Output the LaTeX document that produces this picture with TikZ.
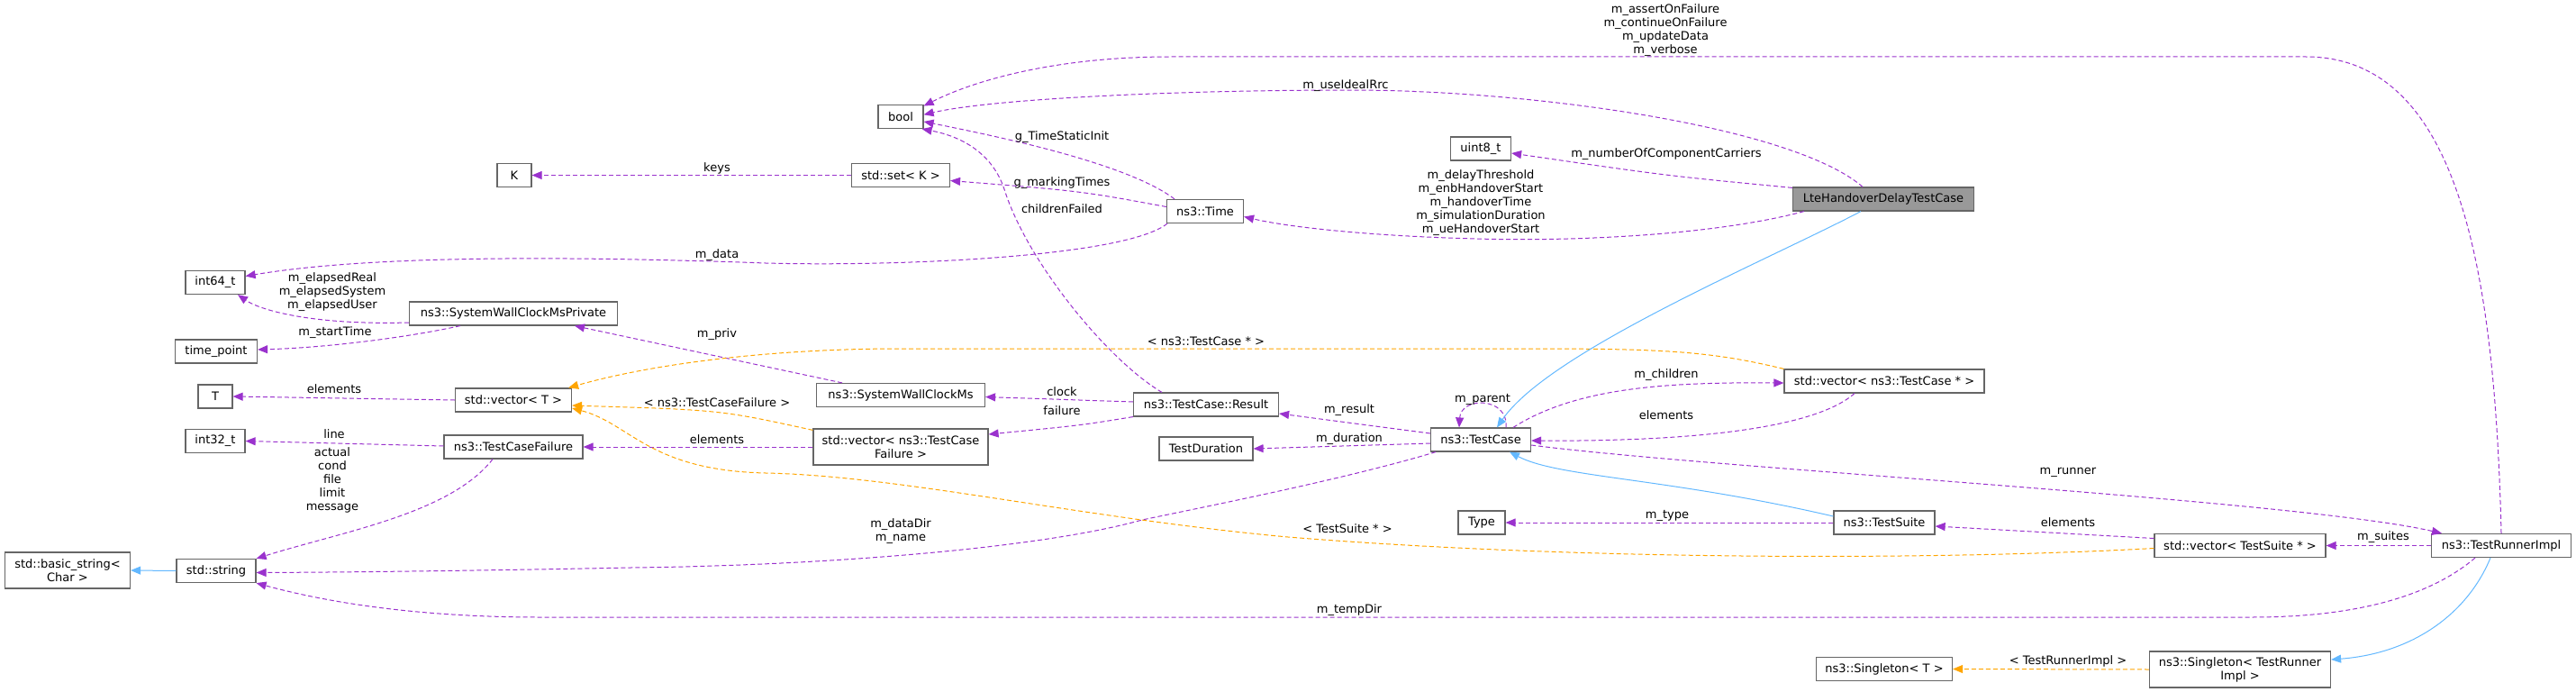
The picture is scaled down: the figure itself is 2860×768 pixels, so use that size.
\documentclass[tikz,border=0pt]{standalone}
\usepackage{fontspec}
\setmainfont{DejaVu Sans}
\usetikzlibrary{arrows.meta}
\definecolor{cpur}{HTML}{9A32CD}
\definecolor{corg}{HTML}{FFA500}
\definecolor{cblu}{HTML}{63B8FF}
\definecolor{cbord}{HTML}{666666}
\begin{document}
\begin{tikzpicture}[x=1pt,y=-1pt,
  every node/.style={font=\fontsize{13}{15}\selectfont},
  box/.style={draw=cbord,line width=1.2pt,fill=white,inner sep=0pt,minimum height=26pt,align=center},
  lab/.style={align=center,inner sep=0pt},
  pe/.style={draw=cpur,line width=1pt,dash pattern=on 5pt off 3pt,-{Triangle[length=11pt,width=9pt]}},
  oe/.style={draw=corg,line width=1pt,dash pattern=on 5pt off 3pt,-{Triangle[length=11pt,width=9pt]}},
  be/.style={draw=cblu,line width=1pt,-{Triangle[length=11pt,width=9pt]}}]
\useasboundingbox (0,0) rectangle (2860,768);
% nodes
\node[box,minimum width=50pt] (bool) at (1000,129.5) {bool};
\node[box,minimum width=38pt] (K) at (571,194.5) {K};
\node[box,minimum width=109pt] (set) at (1000,194.5) {std::set\textless{} K \textgreater};
\node[box,minimum width=85pt] (time) at (1338,234.5) {ns3::Time};
\node[box,minimum width=66pt] (int64) at (239,313.5) {int64\_t};
\node[box,minimum width=231pt] (priv) at (570,348) {ns3::SystemWallClockMsPrivate};
\node[box,minimum width=91pt] (tp) at (240,390) {time\_point};
\node[box,minimum width=38pt] (T) at (239,440) {T};
\node[box,minimum width=129pt] (vT) at (570,444) {std::vector\textless{} T \textgreater};
\node[box,minimum width=66pt] (int32) at (239,489.5) {int32\_t};
\node[box,minimum width=154pt] (tcf) at (570,496) {ns3::TestCaseFailure};
\node[box,minimum width=187pt] (swcm) at (1000,438.5) {ns3::SystemWallClockMs};
\node[box,minimum width=194pt,minimum height=40pt] (vtcf) at (1000,496) {std::vector\textless{} ns3::TestCase\\Failure \textgreater};
\node[box,minimum width=161pt] (res) at (1339,449) {ns3::TestCase::Result};
\node[box,minimum width=104pt] (dur) at (1339,498) {TestDuration};
\node[box,minimum width=139pt,minimum height=40pt] (bstr) at (75,633) {std::basic\_string\textless\\Char \textgreater};
\node[box,minimum width=88pt] (str) at (240,633.5) {std::string};
\node[box,minimum width=67pt] (uint) at (1644,165) {uint8\_t};
\node[box,minimum width=201pt,fill=black!40] (lte) at (2091,221) {LteHandoverDelayTestCase};
\node[box,minimum width=222pt] (vtc) at (2092,423) {std::vector\textless{} ns3::TestCase * \textgreater};
\node[box,minimum width=111pt] (tc) at (1644,488) {ns3::TestCase};
\node[box,minimum width=52pt] (type) at (1645,580) {Type};
\node[box,minimum width=112pt] (suite) at (2092,580) {ns3::TestSuite};
\node[box,minimum width=190pt] (vts) at (2487,605.5) {std::vector\textless{} TestSuite * \textgreater};
\node[box,minimum width=155pt] (tri) at (2777,605.5) {ns3::TestRunnerImpl};
\node[box,minimum width=151pt] (sgT) at (2092,742.5) {ns3::Singleton\textless{} T \textgreater};
\node[box,minimum width=201pt,minimum height=40pt] (sgl) at (2487,743) {ns3::Singleton\textless{} TestRunner\\Impl \textgreater};
% connectors
\draw[pe] (tri.north) .. controls (2770,300) and (2730,63) .. (2560,63) -- (1300,63) .. controls (1170,63) and (1080,90) .. (bool.25);
\draw[pe] ([xshift=-23pt]lte.north) .. controls (1990,140) and (1700,100) .. (1500,100) .. controls (1300,100) and (1100,110) .. (bool.5);
\draw[pe] ([yshift=-1pt]lte.north west) .. controls (1850,195) .. ([yshift=-5pt]uint.east);
\draw[pe] ([xshift=13pt]lte.south west) .. controls (1900,262) and (1740,268) .. (1640,265) .. controls (1520,262) and (1430,252) .. ([yshift=-6pt]time.east);
\draw[pe] ([xshift=-34pt]time.north) .. controls (1250,180) and (1100,150) .. (bool.-12);
\draw[pe] ([yshift=5pt]time.west) .. controls (1200,212) .. ([yshift=-6pt]set.east);
\draw[pe] ([xshift=-49pt]res.north) .. controls (1230,400) and (1140,290) .. (1115,210) .. controls (1100,165) and (1060,150) .. (bool.-30);
\draw[pe] (set.west) -- (K.east);
\draw[pe] ([xshift=-42pt]time.south) .. controls (1250,285) and (1000,296) .. (850,292) .. controls (600,283) and (400,285) .. ([yshift=7pt]int64.east);
\draw[pe] ([yshift=-10pt]priv.west) .. controls (350,361) and (290,345) .. ([xshift=25pt]int64.south);
\draw[pe] ([xshift=-59pt]priv.south) .. controls (450,375) and (360,386) .. ([yshift=2pt]tp.east);
\draw[pe] ([xshift=-65pt]swcm.north) -- ([xshift=68pt]priv.south);
\draw[pe] (vT.west) -- (T.east);
\draw[pe] ([yshift=1pt]tcf.west) -- (int32.east);
\draw[pe] ([xshift=-23pt]tcf.south) .. controls (500,570) and (380,590) .. (str.north east);
\draw[pe] (vtcf.west) -- (tcf.east);
\draw[pe] ([yshift=3pt]res.west) -- ([yshift=-2pt]swcm.east);
\draw[pe] (res.south west) .. controls (1200,472) .. ([yshift=14pt]vtcf.east);
\draw[oe] ([yshift=-2pt]vtcf.north west) .. controls (800,455) .. ([yshift=-6pt]vT.east);
\draw[oe] (vtc.north west) .. controls (1900,390) and (1850,387) .. (1700,387) -- (1000,387) .. controls (850,387) and (720,405) .. ([xshift=-4pt]vT.north east);
\draw[oe] ([yshift=-3pt]vts.west) .. controls (2150,622) and (1750,622) .. (1430,596) .. controls (1200,575) and (1000,528) .. (850,525) .. controls (720,522) and (700,470) .. ([yshift=-9pt]vT.east);
\draw[pe] ([yshift=7pt]tc.west) -- ([yshift=-10pt]res.east);
\draw[pe] ([yshift=-4pt]tc.west) -- (dur.east);
\draw[pe] ([xshift=-50pt]tc.south) .. controls (1500,530) and (1350,560) .. (1268,577) .. controls (1150,610) and (900,628) .. (700,630) .. controls (550,633) and (400,635) .. ([yshift=-2pt]str.east);
\draw[pe] ([xshift=28pt]tc.north) .. controls (1675,440) and (1622,440) .. ([xshift=-24pt]tc.north);
\draw[pe] ([xshift=36pt]tc.north) .. controls (1750,430) and (1850,424) .. ([yshift=-2pt]vtc.west);
\draw[pe] ([xshift=-33pt]vtc.south) .. controls (2010,480) and (1850,490) .. ([yshift=-1pt]tc.east);
\draw[pe] ([yshift=-6pt]tc.east) .. controls (1900,520) and (2550,555) .. ([xshift=-66pt]tri.north);
\draw[be] ([yshift=7pt]suite.west) .. controls (1850,530) and (1730,530) .. ([xshift=32pt]tc.south);
\draw[be] ([xshift=-25pt]lte.south) .. controls (1960,290) and (1720,390) .. ([xshift=18pt]tc.north);
\draw[pe] (suite.west) -- (type.east);
\draw[pe] ([yshift=8pt]vts.west) -- ([yshift=-4pt]suite.east);
\draw[pe] (tri.west) -- (vts.east);
\draw[pe] ([xshift=-29pt]tri.south) .. controls (2700,660) and (2620,685) .. (2500,685) -- (600,685) .. controls (450,685) and (350,665) .. (str.south east);
\draw[be] ([xshift=-12pt]tri.south) .. controls (2740,680) and (2680,725) .. ([yshift=11pt]sgl.east);
\draw[oe] (sgl.west) -- (sgT.east);
\draw[be] (str.west) -- (bstr.east);
% labels
\node[lab] (l1) at (1849,34) {m\_assertOnFailure\\m\_continueOnFailure\\m\_updateData\\m\_verbose};
\node[lab] (l2) at (1494,95) {m\_useIdealRrc};
\node[lab] (l3) at (1850,171) {m\_numberOfComponentCarriers};
\node[lab] (l4) at (1644,225) {m\_delayThreshold\\m\_enbHandoverStart\\m\_handoverTime\\m\_simulationDuration\\m\_ueHandoverStart};
\node[lab] (l5) at (1179,152) {g\_TimeStaticInit};
\node[lab] (l6) at (1179,203) {g\_markingTimes};
\node[lab] (l7) at (1179,232) {childrenFailed};
\node[lab] (l8) at (796,187) {keys};
\node[lab] (l9) at (796,283) {m\_data};
\node[lab] (l10) at (369,324) {m\_elapsedReal\\m\_elapsedSystem\\m\_elapsedUser};
\node[lab] (l11) at (372,369) {m\_startTime};
\node[lab] (l12) at (796,371) {m\_priv};
\node[lab] (l13) at (1339,379) {\textless{} ns3::TestCase * \textgreater};
\node[lab] (l14) at (371,432) {elements};
\node[lab] (l15) at (371,482) {line};
\node[lab] (l16) at (369,533) {actual\\cond\\file\\limit\\message};
\node[lab] (l17) at (796,447) {\textless{} ns3::TestCaseFailure \textgreater};
\node[lab] (l18) at (796,488) {elements};
\node[lab] (l19) at (1179,435) {clock};
\node[lab] (l20) at (1179,456) {failure};
\node[lab] (l21) at (1000,590) {m\_dataDir\\m\_name};
\node[lab] (l22) at (1496,587) {\textless{} TestSuite * \textgreater};
\node[lab] (l23) at (1498,455) {m\_result};
\node[lab] (l24) at (1498,487) {m\_duration};
\node[lab] (l25) at (1646,443) {m\_parent};
\node[lab] (l26) at (1850,416) {m\_children};
\node[lab] (l27) at (1850,461) {elements};
\node[lab] (l28) at (2296,524) {m\_runner};
\node[lab] (l29) at (1851,572) {m\_type};
\node[lab] (l30) at (2296,580) {elements};
\node[lab] (l31) at (2646,596) {m\_suites};
\node[lab] (l32) at (1498,677) {m\_tempDir};
\node[lab] (l33) at (2296,734) {\textless{} TestRunnerImpl \textgreater};
\end{tikzpicture}
\end{document}
